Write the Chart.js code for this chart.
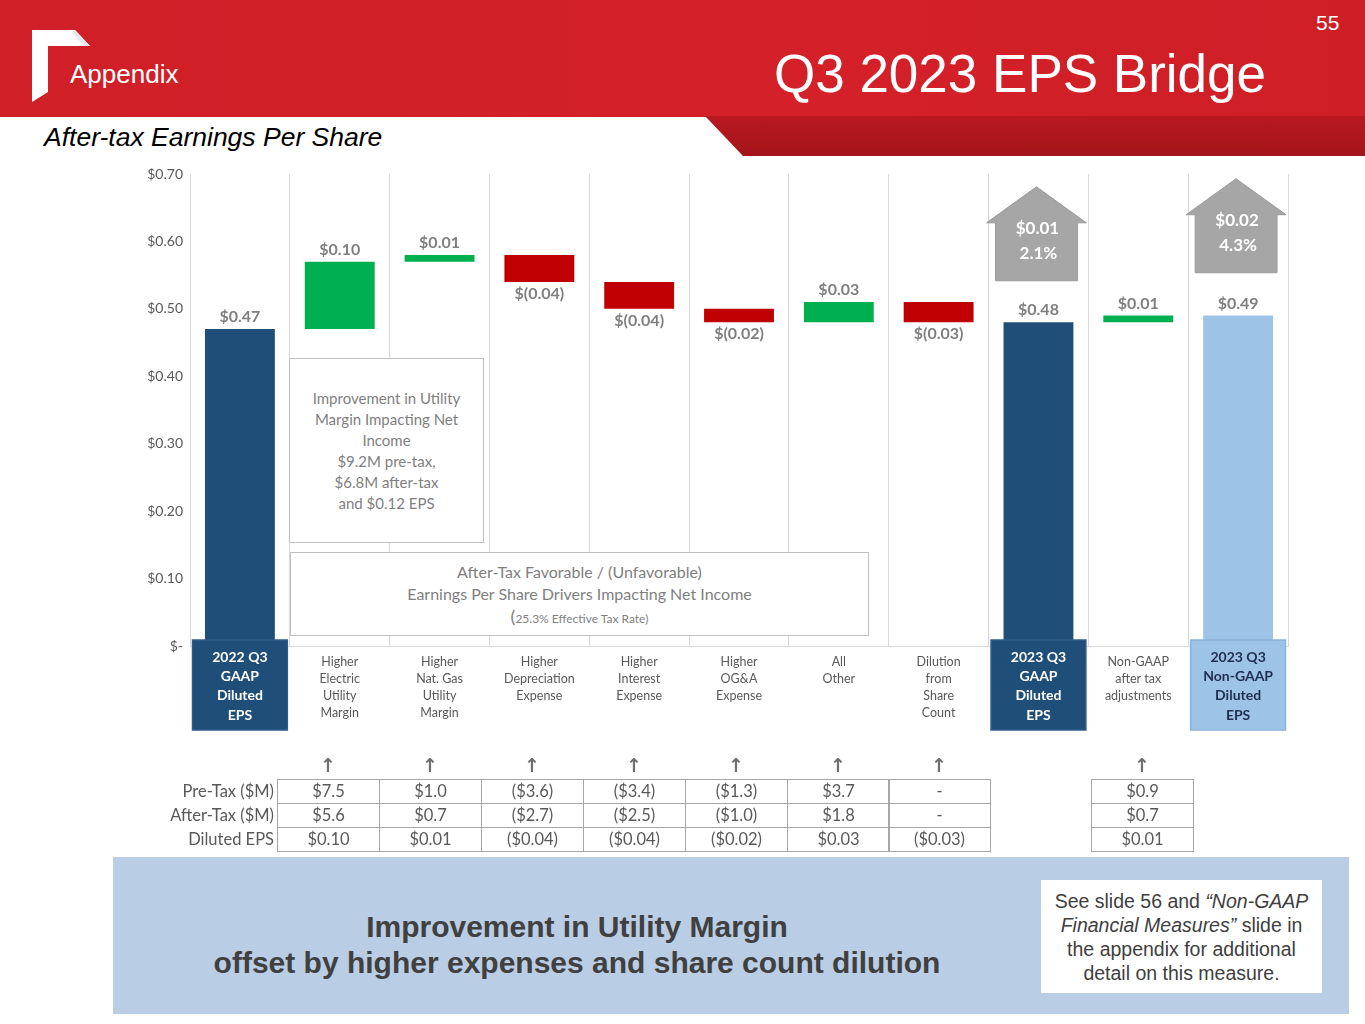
<!DOCTYPE html>
<html><head><meta charset="utf-8">
<script src="https://cdn.jsdelivr.net/npm/chart.js@4.4.0/dist/chart.umd.min.js"></script>
<style>
body{margin:0;width:1365px;height:1024px;overflow:hidden;background:#fff;position:relative;font-family:"Liberation Sans",Arial,sans-serif;}
.abs{position:absolute;}
#banner{left:0;top:0;width:1365px;height:117px;background:linear-gradient(90deg,#CF1F27,#D42029 60%,#CE1E26);}
#strip{left:705px;top:116px;width:660px;height:40px;background:linear-gradient(180deg,#B8191F,#A3151B);clip-path:polygon(0 0,100% 0,100% 100%,38px 100%);}
#appendix{left:70px;top:59px;color:#fff;font-size:26px;line-height:30px;}
#title{left:700px;top:42px;width:640px;text-align:center;color:#fff;font-size:53px;line-height:64px;}
#pnum{left:1316px;top:11px;color:#fff;font-size:21px;}
#subtitle{left:44px;top:121px;font-size:26.5px;font-style:italic;color:#000;line-height:32px;}
#chartwrap{left:0;top:0;width:1365px;height:740px;}
.box{border:1px solid #BFBFBF;background:#fff;color:#7F7F7F;font-family:Lato,"Open Sans",sans-serif;text-align:center;box-sizing:border-box;}
#note1{left:289px;top:358px;width:195px;height:185px;font-size:15px;line-height:21px;padding-top:29px;}
#note2{left:290px;top:552px;width:579px;height:84px;font-size:16px;line-height:22px;padding-top:8px;}
.cell{position:absolute;box-sizing:border-box;border:1px solid #A6A6A6;text-align:center;font-family:Lato,"Open Sans",sans-serif;font-size:16.5px;line-height:23px;color:#595959;}
.rowlab{position:absolute;text-align:right;width:200px;font-family:Lato,"Open Sans",sans-serif;font-size:16.5px;line-height:24px;color:#595959;}
.uparr{position:absolute;width:40px;text-align:center;font-family:"DejaVu Sans",sans-serif;font-weight:bold;font-size:19px;color:#6F6F6F;}
#bottom{left:113px;top:857px;width:1236px;height:157px;background:#B9CDE5;}
#msg{left:113px;top:909px;width:928px;text-align:center;font-weight:bold;font-size:30px;line-height:36px;color:#404040;}
#side{left:1041px;top:880px;width:281px;height:113px;background:#fff;text-align:center;font-size:19.5px;line-height:24px;color:#404040;padding-top:9px;box-sizing:border-box;white-space:nowrap;}
</style></head>
<body>
<div id="banner" class="abs"></div>
<div id="strip" class="abs"></div>
<svg class="abs" style="left:0;top:0" width="120" height="117">
  <polygon points="32,30 75,30 90,46 48,46 48,92 32,102" fill="#fff"/>
  <polygon points="75,30 90,46 84,46 72,33" fill="#e9e9e9"/>
</svg>
<div id="appendix" class="abs">Appendix</div>
<div id="title" class="abs">Q3 2023 EPS Bridge</div>
<div id="pnum" class="abs">55</div>
<div id="subtitle" class="abs">After-tax Earnings Per Share</div>
<div id="chartwrap" class="abs"><canvas id="c" width="1365" height="740"></canvas></div>
<div id="note1" class="abs box">Improvement in Utility<br>Margin Impacting Net<br>Income<br>$9.2M pre-tax,<br>$6.8M after-tax<br>and $0.12 EPS</div>
<div id="note2" class="abs box">After-Tax Favorable / (Unfavorable)<br>Earnings Per Share Drivers Impacting Net Income<br><span style="font-size:18px">(</span><span style="font-size:12px">25.3% Effective Tax Rate)</span></div>
<div id="table" class="abs" style="left:0;top:0;width:1365px;height:860px;"></div>
<div id="bottom" class="abs"></div>
<div id="msg" class="abs">Improvement in Utility Margin<br>offset by higher expenses and share count dilution</div>
<div id="side" class="abs">See slide 56 and <i>“Non-GAAP</i><br><i>Financial Measures”</i> slide in<br>the appendix for additional<br>detail on this measure.</div>
<script>
// ---- data ----
const categories = [
  ["2022 Q3","GAAP","Diluted","EPS"],
  ["Higher","Electric","Utility","Margin"],
  ["Higher","Nat. Gas","Utility","Margin"],
  ["Higher","Depreciation","Expense"],
  ["Higher","Interest","Expense"],
  ["Higher","OG&A","Expense"],
  ["All","Other"],
  ["Dilution","from","Share","Count"],
  ["2023 Q3","GAAP","Diluted","EPS"],
  ["Non-GAAP","after tax","adjustments"],
  ["2023 Q3","Non-GAAP","Diluted","EPS"]
];
const barKinds = ["total","delta","delta","delta","delta","delta","delta","delta","total","delta","total"];
const barValues = [0.47, 0.10, 0.01, -0.04, -0.04, -0.02, 0.03, -0.03, 0.48, 0.01, 0.49];
const yTicks = [0, 0.10, 0.20, 0.30, 0.40, 0.50, 0.60, 0.70];
const calloutCats = [8, 10];
const calloutAmounts = ["$0.01", "$0.02"];
const calloutPcts = ["2.1%", "4.3%"];
const calloutTops = [0.681, 0.693];
const tableRowLabels = ["Pre-Tax ($M)", "After-Tax ($M)", "Diluted EPS"];
const preTax   = ["$7.5","$1.0","($3.6)","($3.4)","($1.3)","$3.7","-"];
const afterTax = ["$5.6","$0.7","($2.7)","($2.5)","($1.0)","$1.8","-"];
const dilutedEps = ["$0.10","$0.01","($0.04)","($0.04)","($0.02)","$0.03","($0.03)"];
const adjPreTax = ["$0.9"], adjAfterTax = ["$0.7"], adjEps = ["$0.01"];

// ---- build floating ranges ----
const ranges = [];
let run = 0;
barValues.forEach((v, i) => {
  if (barKinds[i] === "total") { ranges.push([0, v]); run = v; }
  else { ranges.push([run, +(run + v).toFixed(4)]); run = +(run + v).toFixed(4); }
});
const totalColors = {0:"#1F4E79", 8:"#1F4E79", 10:"#9DC3E6"};
const colors = barValues.map((v,i) => barKinds[i]==="total" ? totalColors[i] : (v>=0 ? "#00B050" : "#C00000"));
const fmt = (v) => v < 0 ? "$(" + Math.abs(v).toFixed(2) + ")" : "$" + v.toFixed(2);

const FONT = "Lato, 'Open Sans', sans-serif";

const overlay = {
  id: "overlay",
  afterDatasetsDraw(chart) {
    const ctx = chart.ctx, xs = chart.scales.x, ys = chart.scales.y;
    const meta = chart.getDatasetMeta(0);
    const step = xs.getPixelForValue(1) - xs.getPixelForValue(0);
    // value labels
    ctx.save();
    ctx.font = "bold 16px " + FONT;
    ctx.fillStyle = "#7F7F7F";
    ctx.textAlign = "center"; ctx.textBaseline = "middle";
    meta.data.forEach((el, i) => {
      const top = Math.min(el.y, el.base), bot = Math.max(el.y, el.base);
      const v = barValues[i];
      if (barKinds[i] === "delta" && v < 0) ctx.fillText(fmt(v), el.x, bot + 12);
      else ctx.fillText(fmt(v), el.x, top - 12);
    });
    ctx.restore();
    // callout arrows
    calloutCats.forEach((ci, k) => {
      const cx = xs.getPixelForValue(ci) - 2;
      const apex = ys.getPixelForValue(calloutTops[k]);
      const hw = step * 0.5, bw = step * 0.41;
      ctx.save();
      ctx.beginPath();
      ctx.moveTo(cx, apex);
      ctx.lineTo(cx + hw, apex + 36);
      ctx.lineTo(cx + bw, apex + 36);
      ctx.lineTo(cx + bw, apex + 94);
      ctx.lineTo(cx - bw, apex + 94);
      ctx.lineTo(cx - bw, apex + 36);
      ctx.lineTo(cx - hw, apex + 36);
      ctx.closePath();
      ctx.fillStyle = "#A6A6A6"; ctx.fill();
      ctx.strokeStyle = "#9A9A9A"; ctx.lineWidth = 1; ctx.stroke();
      ctx.fillStyle = "#fff"; ctx.font = "bold 17px " + FONT;
      ctx.textAlign = "center"; ctx.textBaseline = "middle";
      ctx.fillText(calloutAmounts[k], cx + 1, apex + 42);
      ctx.fillText(calloutPcts[k], cx + 2, apex + 67);
      ctx.restore();
    });
    // category labels
    const base = ys.getPixelForValue(0);
    categories.forEach((lines, i) => {
      const cx = xs.getPixelForValue(i);
      ctx.save();
      ctx.textAlign = "center"; ctx.textBaseline = "middle";
      if (barKinds[i] === "total") {
        const w = step * 0.95;
        ctx.fillStyle = colors[i];
        ctx.fillRect(cx - w/2, base - 6, w, 90);
        ctx.strokeStyle = i === 10 ? "#8DB3DC" : "#2E5C8A";
        ctx.lineWidth = 1.5;
        ctx.strokeRect(cx - w/2, base - 6, w, 90);
        ctx.fillStyle = i === 10 ? "#1F2F4F" : "#fff";
        ctx.font = "bold 14px " + FONT;
        lines.forEach((t, j) => ctx.fillText(t, cx, base + 11 + j * 19.4));
      } else {
        ctx.fillStyle = "#595959";
        ctx.font = "12.5px " + FONT;
        lines.forEach((t, j) => ctx.fillText(t, cx, base + 16 + j * 17));
      }
      ctx.restore();
    });
  }
};

new Chart(document.getElementById("c"), {
  type: "bar",
  data: {
    labels: categories.map(l => l.join(" ")),
    datasets: [{ data: ranges, backgroundColor: colors, borderWidth: 0, barPercentage: 0.7, categoryPercentage: 1.0 }]
  },
  options: {
    responsive: false, animation: false,
    layout: { padding: { top: 174, right: 77, bottom: 94, left: 0 } },
    plugins: { legend: { display: false }, tooltip: { enabled: false } },
    scales: {
      x: {
        ticks: { display: false },
        grid: { display: true, offset: true, color: "#D9D9D9", lineWidth: 1, drawTicks: false },
        border: { display: true, color: "#D9D9D9" },
        afterFit(s) { s.height = 0; }
      },
      y: {
        min: 0, max: 0.70,
        afterBuildTicks(s) { s.ticks = yTicks.map(v => ({ value: v })); },
        ticks: { color: "#595959", font: { family: FONT, size: 14 }, padding: 7,
                 callback: (v) => v === 0 ? "$-" : "$" + Number(v).toFixed(2) },
        grid: { display: false, drawTicks: false },
        border: { display: false },
        afterFit(s) { s.width = 190; }
      }
    }
  },
  plugins: [overlay]
});

// ---- table (HTML) ----
const tbl = document.getElementById("table");
const colLeft = [277, 379, 481, 583, 685, 787, 888];
const colW = 102;
const rowTop = [779, 803, 827];
const rows = [preTax, afterTax, dilutedEps];
const adjRows = [adjPreTax, adjAfterTax, adjEps];
let html = "";
tableRowLabels.forEach((t, r) => {
  html += `<div class="rowlab" style="left:74px;top:${rowTop[r]}px">${t}</div>`;
});
colLeft.forEach((x, c) => {
  html += `<div class="uparr" style="left:${x + colW/2 - 20}px;top:754px">↑</div>`;
  rows.forEach((arr, r) => {
    html += `<div class="cell" style="left:${x}px;top:${rowTop[r]}px;width:${colW + 1}px;height:25px">${arr[c]}</div>`;
  });
});
html += `<div class="uparr" style="left:${1091 + 51 - 20}px;top:754px">↑</div>`;
adjRows.forEach((arr, r) => {
  html += `<div class="cell" style="left:1091px;top:${rowTop[r]}px;width:103px;height:25px">${arr[0]}</div>`;
});
tbl.innerHTML = html;
</script>
</body></html>
